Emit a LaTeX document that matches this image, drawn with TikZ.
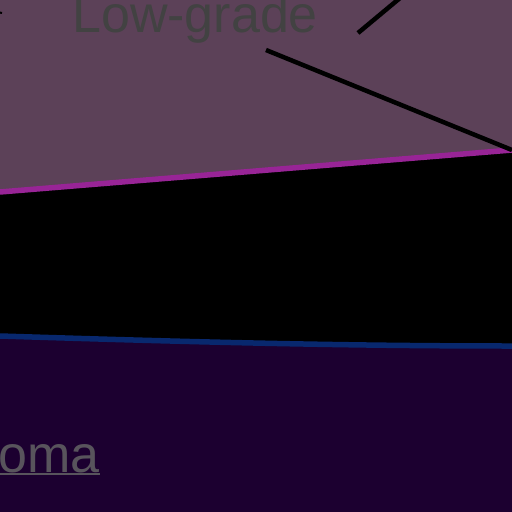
\documentclass[tikz,border=0pt]{standalone}
\usepackage{fontspec}
\setmainfont{Liberation Sans}
\usetikzlibrary{positioning}
\definecolor{TopFill}{RGB}{92,65,88}
\definecolor{BotFill}{RGB}{28,0,48}
\definecolor{EdgeM}{RGB}{152,36,150}
\definecolor{EdgeB}{RGB}{8,40,110}
\definecolor{LblG}{RGB}{66,66,66}
\definecolor{LblB}{RGB}{88,84,92}

\begin{document}
\begin{tikzpicture}[x=1pt, y=-1pt,
  band/.style={draw=none, fill=#1},
  edge/.style={draw=#1, line width=5.5pt},
  lead/.style={draw=black, line width=4.5pt},
  lbl/.style={font=\fontsize{52}{62}\selectfont, text=#1,
              inner sep=0pt, anchor=base west},
  uline/.style={draw=LblB, line width=1.2pt}
]
\useasboundingbox (0,0) rectangle (512,512);

% band corners
\coordinate (mL) at (0,192);
\coordinate (mR) at (512,150);
\coordinate (bL) at (0,336);
\coordinate (bR) at (512,346);

% Bands
\path[band=TopFill] (0,0) -- (512,0) -- (mR) -- (mL) -- cycle;
\path[band=black] (mL) -- (mR) -- (bR)
  .. controls (330,346) and (160,341) .. (bL) -- cycle;
\path[band=BotFill] (bL) .. controls (160,341) and (330,346) .. (bR)
  -- (512,512) -- (0,512) -- cycle;

% Band edges
\draw[edge=EdgeM] (mL) -- (mR);
\draw[edge=EdgeB] (bL) .. controls (160,341) and (330,346) .. (bR);

% Labels
\node[lbl=LblG] (low) at (72,32) {Low-grade};
\node[lbl=LblB] (oma) at (-2,472) {oma};
\draw[uline] ([yshift=-2pt]oma.base west) -- ([yshift=-2pt]oma.base east);

% Leader lines
\coordinate (p1) at (266,50);
\coordinate (q1) at (358,33);
\coordinate (q2) at (400,-2);
\coordinate (s1) at (-3,12);
\coordinate (s2) at (2,13);
\draw[lead] (p1) -- (mR);
\draw[lead] (q1) -- (q2);
\draw[lead, line width=2pt] (s1) -- (s2);
\end{tikzpicture}
\end{document}
